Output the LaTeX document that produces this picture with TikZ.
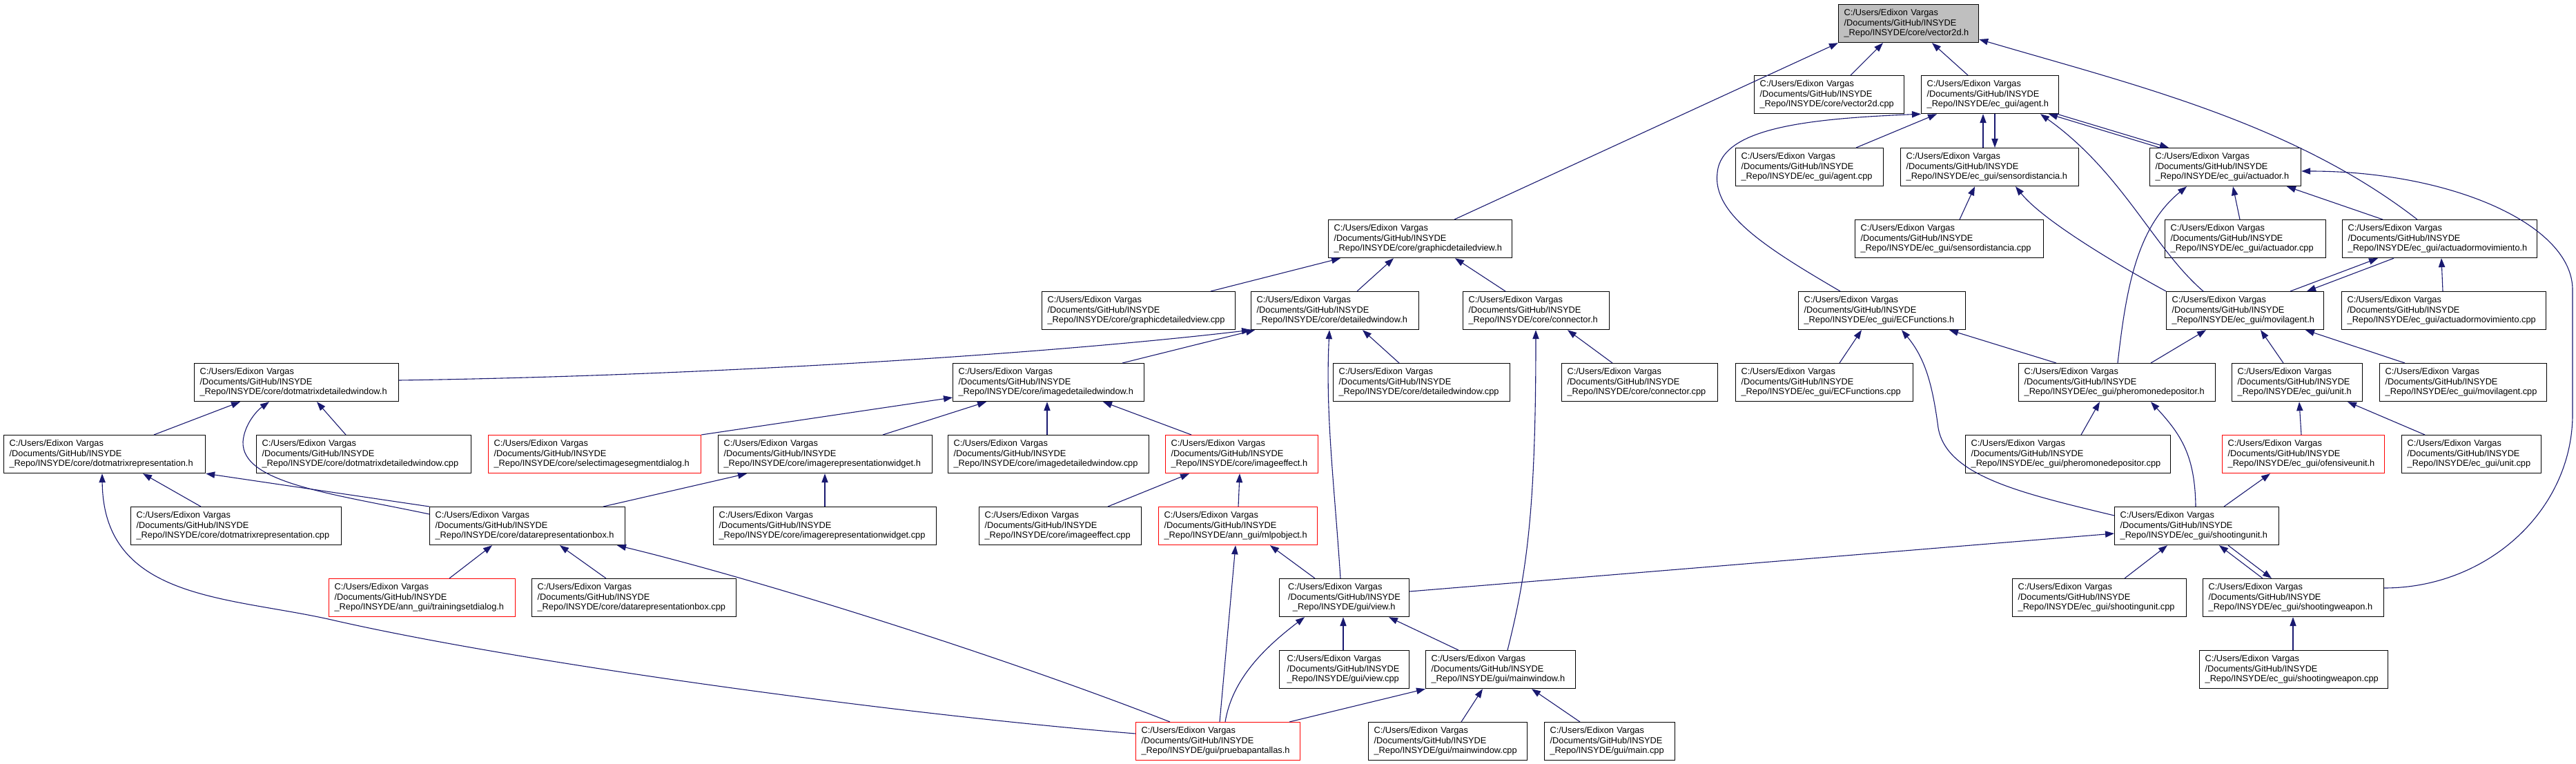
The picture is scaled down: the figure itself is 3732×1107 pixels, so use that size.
\documentclass[tikz,border=0pt]{standalone}
\usepackage{fontspec}
\setmainfont{Liberation Sans}
\usepackage{xcolor}
\usetikzlibrary{arrows.meta}

\definecolor{edgeblue}{RGB}{25,25,112}
\definecolor{rootgray}{RGB}{191,191,191}
\newcommand{\insyde}{C:/Users/Edixon Vargas\\/Documents/GitHub/INSYDE\\\_Repo/INSYDE/}

\begin{document}
\begin{tikzpicture}[
    x=1pt, y=-1pt,
    hdr/.style={rectangle, draw=black, fill=white, line width=1.2pt, anchor=north west, inner xsep=8pt, inner ysep=0pt, minimum height=55pt, align=left, font=\fontsize{12.8}{14.5}\selectfont},
    focusbox/.style={hdr, fill=rootgray},
    redbox/.style={hdr, draw=red},
    incl/.style={-{Triangle[length=13pt,width=9.3pt]}, draw=edgeblue, line width=1.1pt},
]
\useasboundingbox (0,0) rectangle (3732,1107);

% Top rows
\node[focusbox, text width=187pt] (v2h) at (2663,6) {\insyde core/vector2d.h};
\node[hdr, text width=201pt] (v2cpp) at (2541,109) {\insyde core/vector2d.cpp};
\node[hdr, text width=183pt] (agenth) at (2783,109) {\insyde ec\_gui/agent.h};
\node[hdr, text width=198pt] (agentcpp) at (2514,214) {\insyde ec\_gui/agent.cpp};
\node[hdr, text width=242pt] (sdh) at (2753,214) {\insyde ec\_gui/sensordistancia.h};
\node[hdr, text width=203pt] (acth) at (3114,214) {\insyde ec\_gui/actuador.h};
\node[hdr, text width=250pt] (gdvh) at (1924,318) {\insyde core/graphicdetailedview.h};
\node[hdr, text width=257pt] (sdcpp) at (2687,318) {\insyde ec\_gui/sensordistancia.cpp};
\node[hdr, text width=217pt] (actcpp) at (3136,318) {\insyde ec\_gui/actuador.cpp};
\node[hdr, text width=266pt] (amh) at (3393,318) {\insyde ec\_gui/actuadormovimiento.h};

% Middle rows
\node[hdr, text width=264pt] (gdvcpp) at (1509,422) {\insyde core/graphicdetailedview.cpp};
\node[hdr, text width=227pt] (dwh) at (1812,422) {\insyde core/detailedwindow.h};
\node[hdr, text width=196pt] (conh) at (2119,422) {\insyde core/connector.h};
\node[hdr, text width=226pt] (ecfh) at (2605,422) {\insyde ec\_gui/ECFunctions.h};
\node[hdr, text width=212pt] (movh) at (3138,422) {\insyde ec\_gui/movilagent.h};
\node[hdr, text width=280pt] (amcpp) at (3392,422) {\insyde ec\_gui/actuadormovimiento.cpp};

\node[hdr, text width=280pt] (dmdwh) at (281,526) {\insyde core/dotmatrixdetailedwindow.h};
\node[hdr, text width=261pt] (idwh) at (1380,526) {\insyde core/imagedetailedwindow.h};
\node[hdr, text width=240pt] (dwcpp) at (1931,526) {\insyde core/detailedwindow.cpp};
\node[hdr, text width=210pt] (concpp) at (2262,526) {\insyde core/connector.cpp};
\node[hdr, text width=241pt] (ecfcpp) at (2514,526) {\insyde ec\_gui/ECFunctions.cpp};
\node[hdr, text width=269pt] (phh) at (2924,526) {\insyde ec\_gui/pheromonedepositor.h};
\node[hdr, text width=173pt] (unith) at (3233,526) {\insyde ec\_gui/unit.h};
\node[hdr, text width=226pt] (movcpp) at (3447,526) {\insyde ec\_gui/movilagent.cpp};

\node[hdr, text width=276pt] (dmrh) at (5,630) {\insyde core/dotmatrixrepresentation.h};
\node[hdr, text width=295pt] (dmdwcpp) at (371,630) {\insyde core/dotmatrixdetailedwindow.cpp};
\node[redbox, text width=292pt] (sisdh) at (707,630) {\insyde core/selectimagesegmentdialog.h};
\node[hdr, text width=294pt] (irwh) at (1040,630) {\insyde core/imagerepresentationwidget.h};
\node[hdr, text width=275pt] (idwcpp) at (1373,630) {\insyde core/imagedetailedwindow.cpp};
\node[redbox, text width=205pt] (ieh) at (1688,630) {\insyde core/imageeffect.h};
\node[hdr, text width=281pt] (phcpp) at (2847,630) {\insyde ec\_gui/pheromonedepositor.cpp};
\node[redbox, text width=219pt] (ofuh) at (3219,630) {\insyde ec\_gui/ofensiveunit.h};
\node[hdr, text width=186pt] (unitcpp) at (3479,630) {\insyde ec\_gui/unit.cpp};

% Bottom rows
\node[hdr, text width=289pt] (dmrcpp) at (189,734) {\insyde core/dotmatrixrepresentation.cpp};
\node[hdr, text width=267pt] (drbh) at (622,734) {\insyde core/datarepresentationbox.h};
\node[hdr, text width=307pt] (irwcpp) at (1033,734) {\insyde core/imagerepresentationwidget.cpp};
\node[hdr, text width=219pt] (iecpp) at (1418,734) {\insyde core/imageeffect.cpp};
\node[redbox, text width=214pt] (mlph) at (1678,734) {\insyde ann\_gui/mlpobject.h};
\node[hdr, text width=222pt] (suh) at (3063,734) {\insyde ec\_gui/shootingunit.h};

\node[redbox, text width=254pt] (tsdh) at (476,838) {\insyde ann\_gui/trainingsetdialog.h};
\node[hdr, text width=280pt] (drbcpp) at (770,838) {\insyde core/datarepresentationbox.cpp};
\node[hdr, inner xsep=12.5pt, text width=163pt] (viewh) at (1853,838) {C:/Users/Edixon Vargas\\/Documents/GitHub/INSYDE\\\hspace*{6.8pt}\_Repo/INSYDE/gui/view.h};
\node[hdr, text width=236pt] (sucpp) at (2915,838) {\insyde ec\_gui/shootingunit.cpp};
\node[hdr, text width=246pt] (swh) at (3191,838) {\insyde ec\_gui/shootingweapon.h};

\node[hdr, inner xsep=11pt, text width=166pt] (viewcpp) at (1853,942) {\insyde gui/view.cpp};
\node[hdr, text width=201pt] (mwh) at (2065,942) {\insyde gui/mainwindow.h};
\node[hdr, text width=257pt] (swcpp) at (3186,942) {\insyde ec\_gui/shootingweapon.cpp};

\node[redbox, text width=222pt] (pph) at (1645,1046) {\insyde gui/pruebapantallas.h};
\node[hdr, text width=214pt] (mwcpp) at (1982,1046) {\insyde gui/mainwindow.cpp};
\node[hdr, text width=173pt] (maincpp) at (2237,1046) {\insyde gui/main.cpp};

% Arrows, right part
\draw[incl] (v2cpp.north -| 2681,0) -- (v2h.south -| 2728,0);
\draw[incl] (agenth.north -| 2851,0) -- (v2h.south -| 2799,0);
\draw[incl] (gdvh.north -| 2107,0) -- (v2h.south west);
\draw[incl] (amh.north -| 3502,0) .. controls (3320,177) and (3088,122) .. (v2h.east |- 0,57);
\draw[incl] (agentcpp.north -| 2689,0) -- (agenth.south -| 2806,0);
\draw[incl] (sdh.north -| 2873,0) -- (agenth.south -| 2873,0);
\draw[incl] (agenth.south -| 2890,0) -- (sdh.north -| 2890,0);
\draw[incl] (acth.north -| 3129,0) -- (agenth.south -| 2968,0);
\draw[incl] (agenth.south -| 2980,0) -- (acth.north -| 3142,0);
\draw[incl] (ecfh.north -| 2666,0) .. controls (2560,360) and (2480,310) .. (2488,250)
    .. controls (2494,185) and (2620,172) .. (agenth.south west);
\draw[incl] (movh.north -| 3192,0) .. controls (3120,360) and (3075,250) .. (agenth.south -| 2956,0);
\draw[incl] (movh.north west) .. controls (3070,385) and (2960,320) .. (sdh.south -| 2920,0);
\draw[incl] (phh.north -| 3068,0) .. controls (3080,420) and (3095,330) .. (acth.south -| 3168,0);
\draw[incl] (phh.north -| 2979,0) -- (ecfh.south -| 2824,0);
\draw[incl] (phh.north -| 3116,0) -- (movh.south -| 3196,0);
\draw[incl] (actcpp.north -| 3245,0) -- (acth.south -| 3235,0);
\draw[incl] (sdcpp.north -| 2839,0) -- (sdh.south -| 2861,0);
\draw[incl] (amh.north -| 3452,0) -- (acth.south -| 3313,0);
\draw[incl] (swh.east |- 0,852) .. controls (3604,852) and (3727,739) .. (3727,600) -- (3727,420)
    .. controls (3727,325) and (3550,248) .. (acth.east |- 0,248);
\draw[incl] (amcpp.north -| 3539,0) -- (amh.south -| 3537,0);
\draw[incl] (movh.north -| 3318,0) -- (amh.south -| 3445,0);
\draw[incl] (amh.south -| 3468,0) -- (movh.north -| 3342,0);
\draw[incl] (movcpp.north -| 3484,0) -- (movh.south -| 3340,0);
\draw[incl] (unith.north -| 3308,0) -- (movh.south -| 3275,0);
\draw[incl] (ecfcpp.north -| 2665,0) -- (ecfh.south -| 2697,0);
\draw[incl] (phcpp.north -| 3015,0) -- (phh.south -| 3042,0);
\draw[incl] (ofuh.north -| 3334,0) -- (unith.south -| 3331,0);
\draw[incl] (unitcpp.north -| 3513,0) -- (unith.south -| 3401,0);
\draw[incl] (suh.north -| 3181,0) .. controls (3180,660) and (3160,630) .. (phh.south -| 3116,0);
\draw[incl] (suh.north -| 3222,0) -- (ofuh.south -| 3289,0);
\draw[incl] (suh.west |- 0,747) .. controls (2930,715) and (2820,690) .. (2808,620)
    .. controls (2800,560) and (2790,520) .. (ecfh.south -| 2755,0);
\draw[incl] (viewh.east |- 0,857) -- (suh.west |- 0,773);
\draw[incl] (sucpp.north -| 3078,0) -- (suh.south -| 3140,0);
\draw[incl] (swh.north -| 3278,0) -- (suh.south -| 3215,0);
\draw[incl] (suh.south -| 3228,0) -- (swh.north -| 3291,0);
\draw[incl] (swcpp.north -| 3322,0) -- (swh.south -| 3322,0);

% Arrows, left part
\draw[incl] (gdvcpp.north -| 1754,0) -- (gdvh.south -| 1942,0);
\draw[incl] (dwh.north -| 1966,0) -- (gdvh.south -| 2019,0);
\draw[incl] (conh.north -| 2181,0) -- (gdvh.south -| 2108,0);
\draw[incl] (dwcpp.north -| 2027,0) -- (dwh.south -| 1974,0);
\draw[incl] (concpp.north -| 2336,0) -- (conh.south -| 2271,0);
\draw[incl] (mwh.north -| 2184,0) .. controls (2212,830) and (2225,740) .. (conh.south -| 2225,0);
\draw[incl] (viewh.north -| 1942,0) .. controls (1933,700) and (1920,600) .. (dwh.south -| 1926,0);
\draw[incl] (idwh.north -| 1626,0) -- (dwh.south -| 1818,0);
\draw[incl] (dmdwh.east |- 0,551) .. controls (1000,545) and (1500,515) .. (dwh.south west);
\draw[incl] (dmrh.north -| 223,0) -- (dmdwh.south -| 348,0);
\draw[incl] (dmdwcpp.north -| 501,0) -- (dmdwh.south -| 459,0);
\draw[incl] (drbh.west |- 0,745) .. controls (480,715) and (350,700) .. (352,640)
    .. controls (354,615) and (372,595) .. (dmdwh.south -| 390,0);
\draw[incl] (drbh.north west) -- (dmrh.south east);
\draw[incl] (dmrcpp.north -| 291,0) -- (dmrh.south -| 207,0);
\draw[incl] (pph.west |- 0,1063) .. controls (1300,1035) and (750,960) .. (480,898)
    .. controls (330,864) and (150,870) .. (dmrh.south -| 148,0);
\draw[incl] (pph.north -| 1695,0) .. controls (1450,950) and (1100,840) .. (drbh.south -| 894,0);
\draw[incl] (tsdh.north -| 651,0) -- (drbh.south -| 713,0);
\draw[incl] (drbcpp.north -| 878,0) -- (drbh.south -| 811,0);
\draw[incl] (drbh.north -| 874,0) -- (irwh.south -| 1082,0);
\draw[incl] (irwh.north -| 1279,0) -- (idwh.south -| 1429,0);
\draw[incl] (sisdh.north east) -- (idwh.west |- 0,576);
\draw[incl] (idwcpp.north -| 1517,0) -- (idwh.south -| 1517,0);
\draw[incl] (ieh.north -| 1726,0) -- (idwh.south -| 1598,0);
\draw[incl] (irwcpp.north -| 1195,0) -- (irwh.south -| 1195,0);
\draw[incl] (iecpp.north -| 1605,0) -- (ieh.south -| 1723,0);
\draw[incl] (mlph.north -| 1794,0) -- (ieh.south -| 1796,0);
\draw[incl] (viewh.north -| 1905,0) -- (mlph.south -| 1840,0);
\draw[incl] (pph.north -| 1767,0) -- (mlph.south -| 1790,0);
\draw[incl] (viewcpp.north -| 1946,0) -- (viewh.south -| 1946,0);
\draw[incl] (mwh.north -| 2113,0) -- (viewh.south -| 2012,0);
\draw[incl] (pph.north -| 1775,0) .. controls (1785,985) and (1830,940) .. (viewh.south -| 1890,0);
\draw[incl] (pph.north -| 1868,0) -- (mwh.south west);
\draw[incl] (mwcpp.north -| 2117,0) -- (mwh.south -| 2148,0);
\draw[incl] (maincpp.north -| 2289,0) -- (mwh.south -| 2219,0);

\end{tikzpicture}
\end{document}
